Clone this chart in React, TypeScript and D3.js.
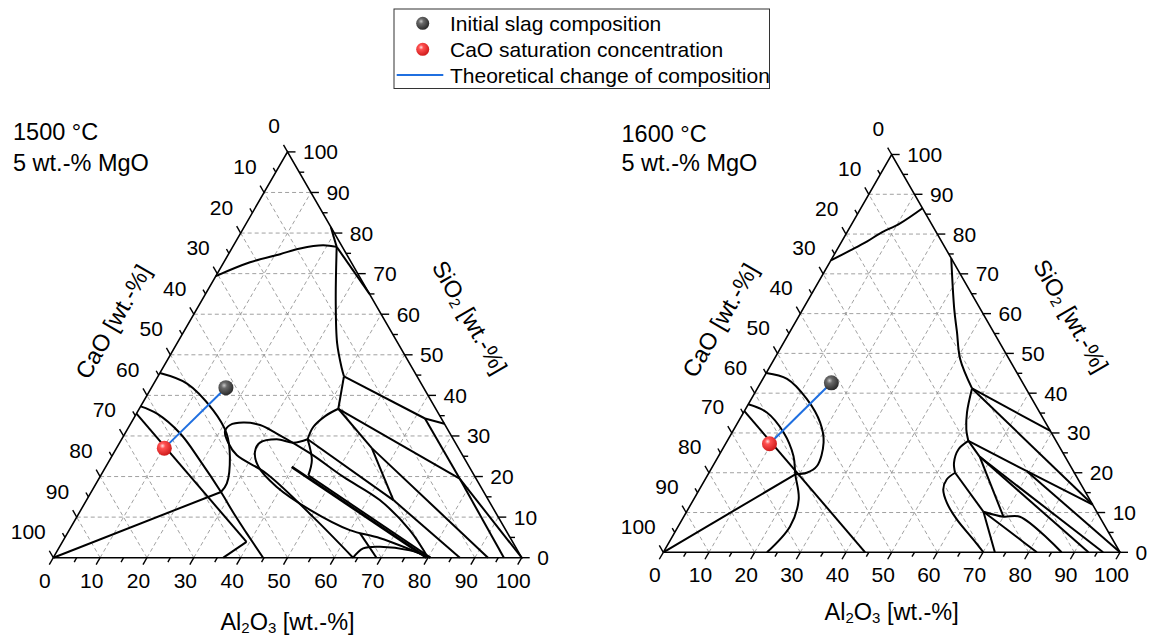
import React from "react";
import * as d3 from "d3";

// A composition is stored as [Al2O3 wt.-%, SiO2 wt.-%]; CaO is the balance to 100.
type Pt = [number, number];

const majorTicks = d3.range(0, 101, 10);
const minorTicks = d3.range(5, 100, 10);
const gridLevels = d3.range(10, 100, 10);

const legendLabels = [
  "Initial slag composition",
  "CaO saturation concentration",
  "Theoretical change of composition",
];

const leftTitle = ["1500 °C", "5 wt.-% MgO"];
const rightTitle = ["1600 °C", "5 wt.-% MgO"];

const leftInitial: Pt = [15.9, 41.9];
const leftSaturation: Pt = [10.2, 27.0];
const rightInitial: Pt = [15.5, 42.6];
const rightSaturation: Pt = [9.6, 27.3];

// Phase boundaries at 1500 °C
const leftBoundaries: Pt[][] = [
  [[0, 69.4], [5.6, 72.8], [11.0, 74.8], [14.6, 76.2], [19.1, 77.0], [22.2, 76.6]],
  [[18.5, 81.5], [22.2, 76.6]],
  [[22.2, 76.6], [35.0, 65.0]],
  [[22.2, 76.6], [28.6, 63.4], [34.2, 52.8], [38.3, 46.6], [39.7, 44.7]],
  [[39.7, 44.7], [62.2, 34.3]],
  [[62.2, 34.3], [67.0, 33.0]],
  [[39.7, 44.7], [42.5, 36.7]],
  [[42.5, 36.7], [40.6, 34.9], [39.4, 32.2], [39.7, 29.2]],
  [[39.7, 29.2], [43.2, 24.0], [44.3, 20.3]],
  [[42.5, 36.7], [77.0, 19.5]],
  [[62.2, 34.3], [77.0, 19.5]],
  [[77.0, 19.5], [100, 0]],
  [[77.0, 19.5], [96.2, 0]],
  [[42.5, 36.7], [54.5, 27.0]],
  [[54.5, 27.0], [65.5, 14.2]],
  [[54.5, 27.0], [92.8, 0]],
  [[39.7, 29.2], [65.5, 14.2]],
  [[65.5, 14.2], [86.8, 0]],
  [[44.3, 20.3], [80.5, 0]],
  [[64.0, 0], [50.5, 10.0], [35.2, 20.7], [26.5, 25.3], [23.3, 28.2], [21.1, 31.1], [21.4, 32.7],
   [23.9, 33.3], [27.8, 32.7], [32.4, 30.6], [42.0, 25.7], [52.0, 19.9], [62.6, 14.2], [72.7, 6.8], [80.0, 0]],
  [[39.7, 29.2], [37.1, 28.35], [33.1, 29.2], [29.95, 28.35], [30.0, 26.1], [32.6, 22.4], [38.9, 17.5],
   [48.9, 11.8], [59.9, 6.8], [67.4, 4.8], [80.5, 0]],
  [[64.0, 0], [65.0, 2.3], [68.4, 2.7], [75.2, 1.8], [80.5, 0]],
  [[62.5, 6.0], [69.0, 0]],
  [[0, 45.5], [7.1, 42.9], [16.0, 36.3], [21.7, 30.6], [25.3, 24.8], [27.9, 18.3], [27.7, 16.2]],
  [[27.7, 16.2], [0, 0]],
  [[0, 37.3], [4.4, 35.5], [11.8, 30.6], [19.3, 24.0], [27.7, 16.2], [33.5, 10.5], [38.3, 6.0], [44.8, 0]],
  [[0, 35.5], [39.3, 3.9]],
  [[39.3, 3.9], [36.3, 0]],
];
const leftHeavy: Pt[][] = [[[39.7, 22.4], [79.7, 0]]];

// Phase boundaries at 1600 °C
const rightBoundaries: Pt[][] = [
  [[0, 73.4], [3.0, 75.9], [5.5, 78.1], [7.4, 80.2], [10.5, 82.7], [13.5, 86.5]],
  [[26.1, 73.9], [33.1, 61.2], [36.6, 55.4], [40.7, 48.6], [47.0, 41.2]],
  [[47.0, 41.2], [69.5, 30.5]],
  [[47.0, 41.2], [88.0, 12.0]],
  [[47.0, 41.2], [48.9, 35.2], [50.9, 30.9], [52.8, 28.0]],
  [[52.8, 28.0], [69.4, 20.4]],
  [[69.4, 20.4], [88.0, 12.0]],
  [[69.4, 20.4], [100, 0]],
  [[52.8, 28.0], [51.7, 25.9], [52.4, 22.5], [53.9, 20.0]],
  [[53.9, 20.0], [52.9, 18.3], [53.4, 15.8], [55.9, 12.4], [60.2, 8.2], [66.3, 3.2], [70.1, 0]],
  [[53.9, 20.0], [65.0, 10.2]],
  [[65.0, 10.2], [72.6, 0]],
  [[65.0, 10.2], [75.4, 3.9], [81.8, 0]],
  [[65.0, 10.2], [70.0, 8.95], [73.6, 8.95], [87.2, 0]],
  [[52.8, 28.0], [57.3, 24.0]],
  [[57.3, 24.0], [96.3, 0]],
  [[57.3, 24.0], [93.1, 0]],
  [[57.3, 24.0], [70.0, 8.95]],
  [[0, 45.1], [5.3, 43.6], [12.2, 38.5], [18.05, 32.6], [21.3, 27.6], [22.8, 21.7], [21.4, 20.0], [19.1, 19.6]],
  [[0, 37.2], [5.1, 35.15], [11.3, 30.1], [16.4, 24.2], [19.1, 19.6], [23.0, 13.3], [24.5, 6.5], [22.7, 0]],
  [[0, 35.5], [44.2, 0]],
  [[0, 0], [19.1, 19.6]],
];
const rightHeavy: Pt[][] = [];

type Frame = { x0: number; x1: number; y0: number; y1: number; titleY: number[]; titleX: number; alDy: number };

const leftFrame: Frame = { x0: 53.3, x1: 521.7, y0: 557.7, y1: 151.9, titleY: [139.5, 170.5], titleX: 13, alDy: 64 };
const rightFrame: Frame = { x0: 663.3, x1: 1120, y0: 552.3, y1: 154.5, titleY: [141.5, 171], titleX: 621.5, alDy: 60 };

const FONT = "'Liberation Sans', Arial, Helvetica, sans-serif";
const C30 = Math.cos(Math.PI / 6);

function Ball({ x, y, r, fill }: { x: number; y: number; r: number; fill: string }) {
  return <circle cx={x} cy={y} r={r} fill={`url(#${fill})`} />;
}

function Panel({ frame, lines, heavy, initial, saturation, title }: {
  frame: Frame; lines: Pt[][]; heavy: Pt[][]; initial: Pt; saturation: Pt; title: string[];
}) {
  const xs = d3.scaleLinear().domain([0, 100]).range([frame.x0, frame.x1]);
  const ys = d3.scaleLinear().domain([0, 100]).range([frame.y0, frame.y1]);
  const proj = (p: Pt): [number, number] => [xs(p[0] + p[1] / 2), ys(p[1])];
  const line = d3
    .line<Pt>()
    .x((p) => proj(p)[0])
    .y((p) => proj(p)[1])
    .curve(d3.curveCatmullRom.alpha(0.5));
  const straight = d3.line<Pt>().x((p) => proj(p)[0]).y((p) => proj(p)[1]);

  const grid: Pt[][] = [];
  gridLevels.forEach((v) => {
    grid.push([[0, v], [100 - v, v]]);
    grid.push([[v, 0], [v, 100 - v]]);
    grid.push([[100 - v, 0], [0, 100 - v]]);
  });

  const tri: Pt[] = [[0, 0], [100, 0], [0, 100], [0, 0]];

  // tick bases and outward directions
  const ticks: { b: [number, number]; d: [number, number]; len: number }[] = [];
  const addTicks = (vals: number[], len: number) => {
    vals.forEach((v) => {
      ticks.push({ b: proj([v, 0]), d: [-0.5, C30], len });
      ticks.push({ b: proj([0, 100 - v]), d: [-0.5, -C30], len });
      ticks.push({ b: proj([100 - v, v]), d: [1, 0], len });
    });
  };
  addTicks(majorTicks, 8);
  addTicks(minorTicks, 5);

  const top = proj([0, 100]);
  const leftMid: [number, number] = [(frame.x0 + top[0]) / 2, (frame.y0 + top[1]) / 2];
  const rightMid: [number, number] = [(frame.x1 + top[0]) / 2, (frame.y0 + top[1]) / 2];
  const caoPos: [number, number] = [leftMid[0] - 66 * C30, leftMid[1] - 66 * 0.5];
  const sioPos: [number, number] = [rightMid[0] + 75 * C30, rightMid[1] - 75 * 0.5];
  const alPos: [number, number] = [(frame.x0 + frame.x1) / 2, frame.y0 + frame.alDy];

  const pi = proj(initial);
  const ps = proj(saturation);

  return (
    <g>
      {grid.map((g, i) => (
        <path key={"g" + i} d={straight(g) || ""} stroke="#969696" strokeWidth={0.9} strokeDasharray="4 3" fill="none" />
      ))}
      {ticks.map((t, i) => (
        <line key={"t" + i} x1={t.b[0]} y1={t.b[1]} x2={t.b[0] + t.d[0] * t.len} y2={t.b[1] + t.d[1] * t.len}
          stroke="#000" strokeWidth={1.4} />
      ))}
      <path d={straight(tri) || ""} stroke="#000" strokeWidth={1.6} fill="none" strokeLinejoin="miter" />
      {lines.map((l, i) => (
        <path key={"b" + i} d={line(l) || ""} stroke="#000" strokeWidth={2} fill="none" strokeLinejoin="round" />
      ))}
      {heavy.map((l, i) => (
        <path key={"h" + i} d={line(l) || ""} stroke="#000" strokeWidth={2.8} fill="none" />
      ))}
      {majorTicks.map((v) => {
        const b = proj([v, 0]);
        return (
          <text key={"al" + v} x={b[0] - 8.5} y={b[1] + 22.5} textAnchor="middle" dominantBaseline="central">{v}</text>
        );
      })}
      {majorTicks.map((v) => {
        const b = proj([0, 100 - v]);
        return (
          <text key={"ca" + v} x={b[0] - 7.5} y={b[1] - 26} textAnchor="end" dominantBaseline="central">{v}</text>
        );
      })}
      {majorTicks.map((v) => {
        const b = proj([100 - v, v]);
        return (
          <text key={"si" + v} x={b[0] + 15.5} y={b[1]} textAnchor="start" dominantBaseline="central">{v}</text>
        );
      })}
      <text x={caoPos[0]} y={caoPos[1]} textAnchor="middle" dominantBaseline="central" fontSize={23.5}
        transform={`rotate(-60 ${caoPos[0]} ${caoPos[1]})`}>CaO [wt.-%]</text>
      <text x={sioPos[0]} y={sioPos[1]} textAnchor="middle" dominantBaseline="central" fontSize={23.5}
        transform={`rotate(60 ${sioPos[0]} ${sioPos[1]})`}>
        SiO<tspan fontSize={15} dy={5}>2</tspan><tspan dy={-5}> [wt.-%]</tspan>
      </text>
      <text x={alPos[0]} y={alPos[1]} textAnchor="middle" dominantBaseline="central" fontSize={23.5}>
        Al<tspan fontSize={15} dy={5}>2</tspan><tspan dy={-5}>O</tspan><tspan fontSize={15} dy={5}>3</tspan>
        <tspan dy={-5}> [wt.-%]</tspan>
      </text>
      {title.map((t, i) => (
        <text key={"tt" + i} x={frame.titleX} y={frame.titleY[i]} fontSize={23.5}>{t}</text>
      ))}
      <line x1={pi[0]} y1={pi[1]} x2={ps[0]} y2={ps[1]} stroke="#1f6fe0" strokeWidth={2} />
      <Ball x={pi[0]} y={pi[1]} r={7.5} fill="ballGray" />
      <Ball x={ps[0]} y={ps[1]} r={7.5} fill="ballRed" />
    </g>
  );
}

export default function App() {
  return (
    <svg width={1153} height={636} viewBox="0 0 1153 636"
      style={{ position: "absolute", left: 0, top: 0, background: "#fff" }}
      fontFamily={FONT} fontSize={21} fill="#000">
      <defs>
        <radialGradient id="ballGray" cx="38%" cy="35%" r="65%">
          <stop offset="0%" stopColor="#c8c8c8" />
          <stop offset="30%" stopColor="#6a6a6a" />
          <stop offset="100%" stopColor="#2b2b2b" />
        </radialGradient>
        <radialGradient id="ballRed" cx="38%" cy="35%" r="65%">
          <stop offset="0%" stopColor="#ffe0e0" />
          <stop offset="28%" stopColor="#ff5050" />
          <stop offset="100%" stopColor="#d01c1c" />
        </radialGradient>
      </defs>
      <rect x={0} y={0} width={1153} height={636} fill="#fff" />
      <Panel frame={leftFrame} lines={leftBoundaries} heavy={leftHeavy} initial={leftInitial}
        saturation={leftSaturation} title={leftTitle} />
      <Panel frame={rightFrame} lines={rightBoundaries} heavy={rightHeavy} initial={rightInitial}
        saturation={rightSaturation} title={rightTitle} />
      <g>
        <rect x={394} y={9} width={375.5} height={79.5} fill="#fff" stroke="#333" strokeWidth={1} />
        <Ball x={422.7} y={23.3} r={6.5} fill="ballGray" />
        <Ball x={422.7} y={49.3} r={6.5} fill="ballRed" />
        <line x1={396.7} y1={75} x2={443.3} y2={75} stroke="#1f6fe0" strokeWidth={2} />
        {legendLabels.map((t, i) => (
          <text key={t} x={450} y={23.3 + i * 25.9} dominantBaseline="central">{t}</text>
        ))}
      </g>
    </svg>
  );
}
